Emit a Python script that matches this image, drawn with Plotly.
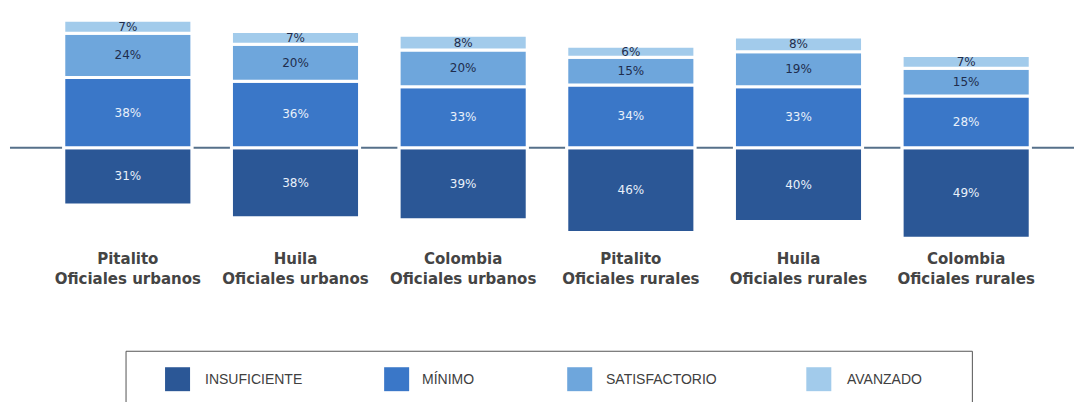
import plotly.graph_objects as go

# categories and percentages per performance level
categorias = [
    "Pitalito<br>Oficiales urbanos",
    "Huila<br>Oficiales urbanos",
    "Colombia<br>Oficiales urbanos",
    "Pitalito<br>Oficiales rurales",
    "Huila<br>Oficiales rurales",
    "Colombia<br>Oficiales rurales",
]
insuficiente = [31, 38, 39, 46, 40, 49]
minimo = [38, 36, 33, 34, 33, 28]
satisfactorio = [24, 20, 20, 15, 19, 15]
avanzado = [7, 7, 8, 6, 8, 7]

niveles = ["INSUFICIENTE", "MÍNIMO", "SATISFACTORIO", "AVANZADO"]
colores = ["#2b5796", "#3a77c8", "#6ea6dc", "#a2cbeb"]
texto_colores = ["#e8f0fa", "#e8f0fa", "#1f2d4d", "#1f2d4d"]

# page body adds an 8px offset, positions below are in screenshot pixels
OFF = 8
W, H = 1082, 402
ML, MT = 36, 0
PW = 1005.6
MR = W - ML - PW
PH = 232.5
MB = H - MT - PH


def px_x(x):
    return (x - OFF - ML) / PW


def px_y(y):
    return (MT + PH - (y - OFF)) / PH


fig = go.Figure()

series = [
    [-v for v in insuficiente],
    minimo,
    satisfactorio,
    avanzado,
]
etiquetas = [insuficiente, minimo, satisfactorio, avanzado]

for nombre, valores, etq, color, tcolor in zip(niveles, series, etiquetas, colores, texto_colores):
    fig.add_trace(go.Bar(
        name=nombre,
        x=categorias,
        y=valores,
        text=[f"{v}%" for v in etq],
        textposition="inside",
        insidetextanchor="middle",
        constraintext="none",
        textfont=dict(family="DejaVu Sans", size=12, color=tcolor),
        marker=dict(color=color, line=dict(color="white", width=3)),
        showlegend=False,
        cliponaxis=False,
        hoverinfo="skip",
    ))

# zero line across the whole width
fig.add_shape(type="line", xref="paper", yref="y",
              x0=px_x(10), x1=px_x(1090), y0=0, y1=0,
              line=dict(color="#56708a", width=2), layer="below")

# legend box drawn by hand
fig.add_shape(type="rect", xref="paper", yref="paper",
              x0=px_x(126), x1=px_x(972), y0=px_y(420), y1=px_y(352),
              line=dict(color="#555555", width=1), fillcolor="white", layer="below")

sq_x = [165, 384, 567, 806]
tx_x = [203, 420, 604, 845]
for nombre, color, sx, tx in zip(niveles, colores, sq_x, tx_x):
    fig.add_shape(type="rect", xref="paper", yref="paper",
                  x0=px_x(sx), x1=px_x(sx + 25), y0=px_y(392), y1=px_y(368),
                  line=dict(width=0), fillcolor=color)
    fig.add_annotation(text=nombre, xref="paper", yref="paper",
                       x=px_x(tx), y=px_y(380), xanchor="left", yanchor="middle",
                       showarrow=False,
                       font=dict(family="Liberation Sans", size=14, color="#404040"))

fig.update_layout(
    width=W, height=H,
    margin=dict(l=ML, r=MR, t=MT, b=MB),
    barmode="relative",
    bargap=0.236,
    paper_bgcolor="white",
    plot_bgcolor="white",
    xaxis=dict(
        showgrid=False, showline=False, zeroline=False, ticks="",
        tickfont=dict(family="DejaVu Sans", size=15, color="#444444", weight="bold"),
        ticklabelstandoff=8,
    ),
    yaxis=dict(visible=False, range=[-50, 75.7], showgrid=False, zeroline=False),
)

fig.write_html("out.html")
